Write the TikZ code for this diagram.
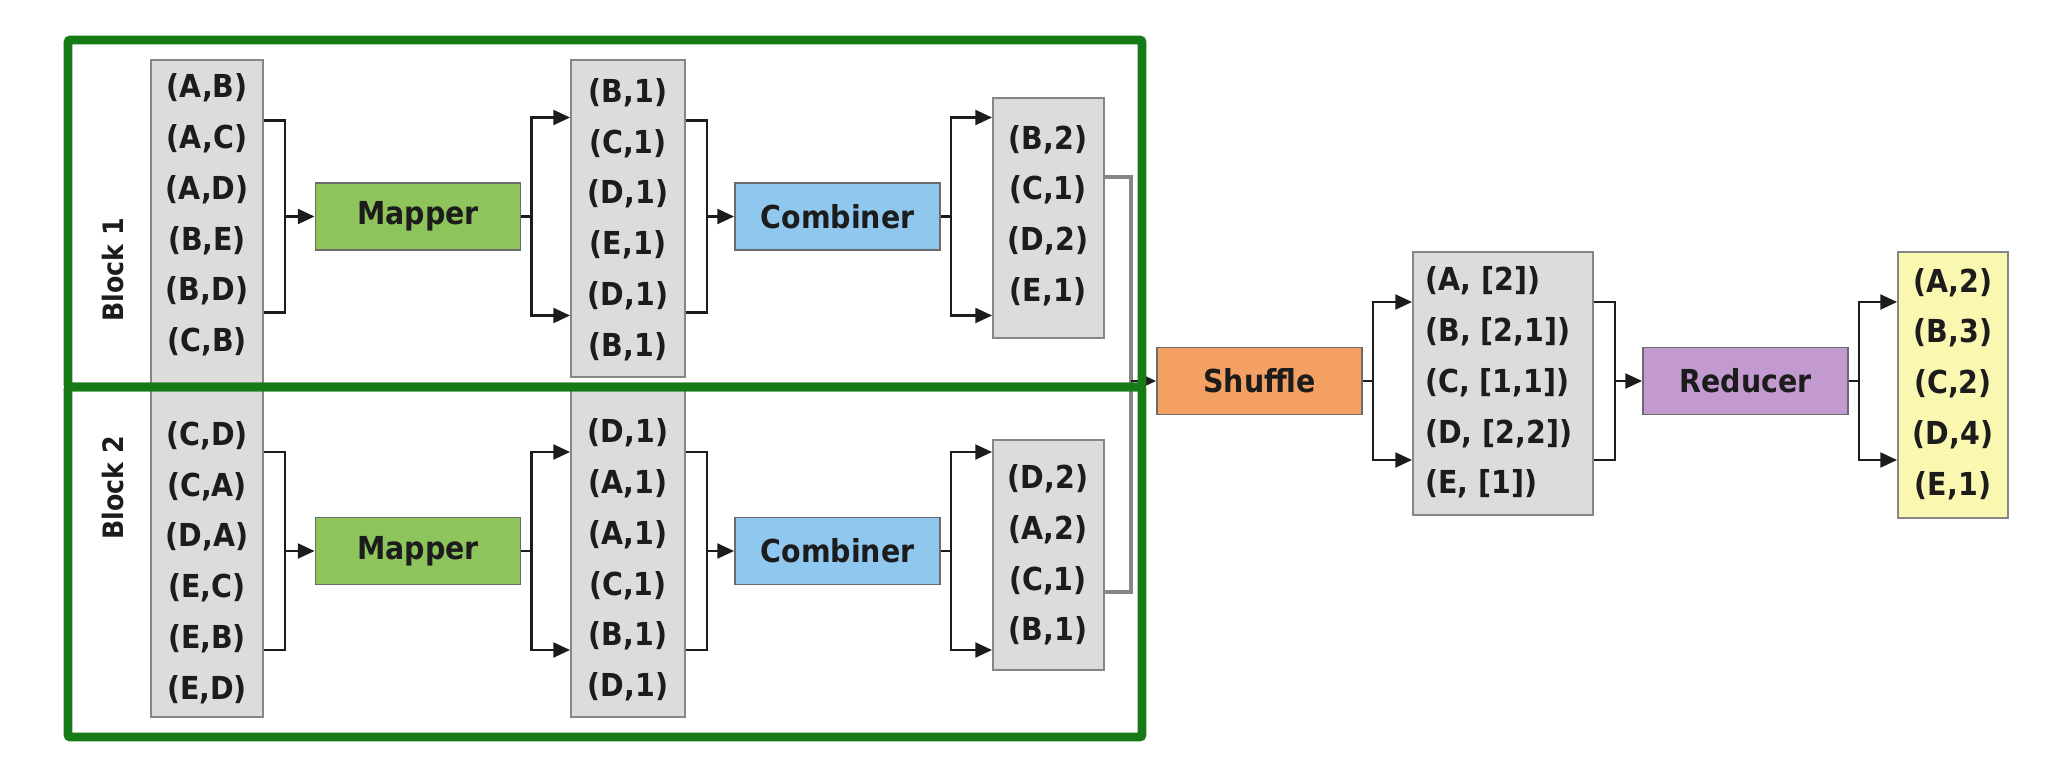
\documentclass[tikz,border=0pt]{standalone}
\usepackage{fontspec}
\setmainfont{DejaVu Sans Condensed}
\usepackage{xcolor}
\usepackage{tikz}
\usetikzlibrary{arrows.meta,calc,fit}
\definecolor{framegreen}{HTML}{167A16}
\definecolor{listgray}{HTML}{DCDCDC}
\definecolor{edgegray}{HTML}{868686}
\definecolor{ink}{HTML}{1C1C1C}
\definecolor{mapgreen}{HTML}{8EC45C}
\definecolor{combblue}{HTML}{8FC7EE}
\definecolor{shuforange}{HTML}{F4A062}
\definecolor{redpurple}{HTML}{C29AD0}
\definecolor{resyellow}{HTML}{FAF7B0}
\tikzset{
  >={Triangle[length=9.5pt,width=8.5pt]},
  wire/.style={draw=ink,line width=1.3pt},
  flow/.style={wire,->},
  merge/.style={draw=gray!95,line width=1.9pt},
  listbox/.style={draw=edgegray,line width=1.1pt,fill=listgray,inner sep=0pt},
  rows/.style={text=ink,align=center,inner sep=0pt,font=\fontsize{18}{28.9}\selectfont\bfseries},
  op/.style={draw=edgegray!80!black,line width=1.1pt,minimum width=4.1cm,minimum height=1.34cm,
             inner sep=0pt,text=ink,font=\fontsize{18}{20}\selectfont\bfseries},
  blockframe/.style={draw=framegreen,line width=5.1pt,inner sep=0pt,rounded corners=1.5pt},
  blocklabel/.style={rotate=90,text=ink,inner sep=0pt,font=\fontsize{16}{18}\selectfont\bfseries}
}
\begin{document}
\begin{tikzpicture}[x=0.02cm,y=-0.02cm]
  \path[fill=white,use as bounding box] (0,0) rectangle (2056,784);
  % Block 1
  \node[listbox,fit={(151,60) (263,387)}] (in1) {};
  \node[rows] (in1t) at (207,215) {(A,B)\\(A,C)\\(A,D)\\(B,E)\\(B,D)\\(C,B)};
  \node[op,fill=mapgreen] (map1) at (418,216.5) {Mapper};
  \node[listbox,fit={(571,60) (685,377)}] (mid1) {};
  \node[rows] (mid1t) at (628,219.5) {(B,1)\\(C,1)\\(D,1)\\(E,1)\\(D,1)\\(B,1)};
  \node[op,fill=combblue] (comb1) at (837.5,216.5) {Combiner};
  \node[listbox,fit={(993,98) (1104,338)}] (out1) {};
  \node[rows] (out1t) at (1048,215.5) {(B,2)\\(C,1)\\(D,2)\\(E,1)};
  \node[blocklabel] (lbl1) at (113,270) {Block 1};
  % Block 2
  \node[listbox,fit={(151,387) (263,717)}] (in2) {};
  \node[rows] (in2t) at (207,562.5) {(C,D)\\(C,A)\\(D,A)\\(E,C)\\(E,B)\\(E,D)};
  \node[op,fill=mapgreen] (map2) at (418,551) {Mapper};
  \node[listbox,fit={(571,387) (685,717)}] (mid2) {};
  \node[rows] (mid2t) at (628,560) {(D,1)\\(A,1)\\(A,1)\\(C,1)\\(B,1)\\(D,1)};
  \node[op,fill=combblue] (comb2) at (837.5,551) {Combiner};
  \node[listbox,fit={(993,440) (1104,670)}] (out2) {};
  \node[rows] (out2t) at (1048,555) {(D,2)\\(A,2)\\(C,1)\\(B,1)};
  \node[blocklabel] (lbl2) at (113,488) {Block 2};
  % Shuffle and reduce
  \node[op,fill=shuforange] (shuf) at (1259.5,381) {Shuffle};
  \node[listbox,fit={(1413,252) (1593,515)}] (grp) {};
  \node[rows,align=left,anchor=west] (grpt) at (1425,382.5) {(A, [2])\\(B, [2,1])\\(C, [1,1])\\(D, [2,2])\\(E, [1])};
  \node[op,fill=redpurple] (red) at (1745.5,381) {Reducer};
  \node[listbox,fill=resyellow,fit={(1898,252) (2008,518)}] (res) {};
  \node[rows] (rest) at (1953,384) {(A,2)\\(B,3)\\(C,2)\\(D,4)\\(E,1)};

  \foreach \src/\dst/\h in {in1/map1/96,mid1/comb1/96,in2/map2/99,mid2/comb2/99,grp/red/79}{
    \draw[wire] ($(\src.east|-\dst)+(0,-\h)$) -| ($(\src.east|-\dst)+(21,\h)$) -- ($(\src.east|-\dst)+(0,\h)$);
    \draw[flow] ($(\src.east|-\dst)+(21,0)$) -- (\dst);
  }
  \foreach \src/\dst/\h in {map1/mid1/99,comb1/out1/99,map2/mid2/99,comb2/out2/99,shuf/grp/79,red/res/79}{
    \draw[flow] (\src.east) -- ++(10,0) |- ($(\dst.west|-\src)+(0,-\h)$);
    \draw[flow] (\src.east) -- ++(10,0) |- ($(\dst.west|-\src)+(0,\h)$);
  }
  \coordinate (bus) at (1131,381);
  \draw[merge] ($(out1.east)+(0,-41)$) -| (bus) |- ($(out2.east)+(0,37)$);
  \draw[flow] (bus) -- (shuf);

  \node[blockframe,fit={(68,40) (1142,387)}] (blk1) {};
  \node[blockframe,fit={(68,387) (1142,737)}] (blk2) {};
\end{tikzpicture}
\end{document}
